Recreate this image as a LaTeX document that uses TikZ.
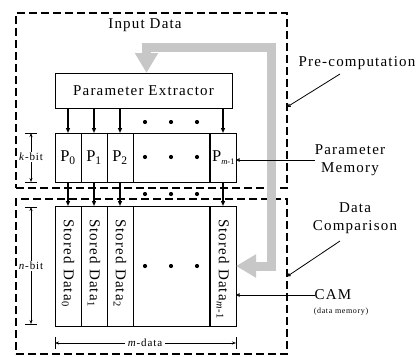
\documentclass[tikz,border=0pt]{standalone}
\usepackage{fontspec}
\setmainfont{Liberation Serif}[LetterSpace=8]
\usetikzlibrary{arrows.meta}
\begin{document}
\begin{tikzpicture}[x=1pt,y=-1pt,
  every node/.style={inner sep=0pt, outer sep=0pt},
  box/.style={draw, line width=0.9pt, fill=white, anchor=north west},
  zone/.style={draw, line width=2.6pt, dash pattern=on 8pt off 4pt, anchor=north west},
  arr/.style={line width=1.2pt, -{Triangle[length=5pt,width=4pt]}},
  dim/.style={line width=0.7pt, {Stealth[length=4pt,width=3pt]}-{Stealth[length=4pt,width=3pt]}},
  tick/.style={line width=0.7pt},
  lead/.style={line width=0.8pt, -{Triangle[open,length=3.5pt,width=3.5pt]}},
  flow/.style={line width=9pt, draw=black!22, line join=miter, {Triangle[length=20pt,width=22pt]}-{Triangle[length=20pt,width=22pt]}},
  lbl/.style={font=\fontsize{15}{18}\selectfont},
  pcell/.style={font=\fontsize{16.5}{19}\selectfont},
  cell/.style={font=\fontsize{15}{18}\selectfont},
  small/.style={font=\fontsize{11}{13}\selectfont, fill=white, inner xsep=1pt, inner ysep=1pt},
  tiny/.style={font=\fontsize{8}{10}\selectfont},
  dot/.style={circle, fill=black, minimum size=4.2pt}
]
\useasboundingbox[fill=white] (0,0) rectangle (417,356);

% zones
\node[zone, minimum width=271pt, minimum height=175pt] (pre) at (16,13) {};
\node[zone, minimum width=271pt, minimum height=155pt] (cmp) at (16,199) {};

% parameter extractor
\node[box, minimum width=177pt, minimum height=35pt, lbl] (ext) at (55,73) {};
\node[lbl] (extl) at (ext.center) {Parameter Extractor};

% parameter memory row
\node[box, minimum width=26pt, minimum height=49pt] (P0) at (55,133) {};
\node[box, minimum width=26pt, minimum height=49pt] (P1) at (81,133) {};
\node[box, minimum width=26pt, minimum height=49pt] (P2) at (107,133) {};
\node[box, minimum width=77pt, minimum height=49pt] (Pd) at (133,133) {};
\node[box, minimum width=26pt, minimum height=49pt] (Pm) at (210,133) {};
\draw[line width=1.8pt] (Pm.north west) -- (Pm.south west);
\node[pcell] (P0l) at (P0.center) {P\textsubscript{0}};
\node[pcell] (P1l) at (P1.center) {P\textsubscript{1}};
\node[pcell] (P2l) at (P2.center) {P\textsubscript{2}};
\node[pcell] (Pml) at ([xshift=0.3pt]Pm.center) {P\raisebox{-0.35ex}{\fontsize{8.5}{9}\selectfont\addfontfeature{LetterSpace=0}\textit{m}-1}};

% stored data row
\node[box, minimum width=26pt, minimum height=120pt] (S0) at (55,206) {};
\node[box, minimum width=26pt, minimum height=120pt] (S1) at (81,206) {};
\node[box, minimum width=26pt, minimum height=120pt] (S2) at (107,206) {};
\node[box, minimum width=77pt, minimum height=120pt] (Sd) at (133,206) {};
\node[box, minimum width=26pt, minimum height=120pt] (Sm) at (210,206) {};
\draw[line width=1.8pt] (Sm.north west) -- (Sm.south west);
\node[cell, rotate=-90, anchor=west] (S0l) at (68,219) {Stored Data\textsubscript{0}};
\node[cell, rotate=-90, anchor=west] (S1l) at (94,219) {Stored Data\textsubscript{1}};
\node[cell, rotate=-90, anchor=west] (S2l) at (120,219) {Stored Data\textsubscript{2}};
\node[cell, rotate=-90, anchor=west] (Sml) at (223,219) {Stored Data\textsubscript{\textit{m}-1}};

% arrows
\foreach \c in {0,1,2,m}{
  \draw[arr] (ext.south -| P\c.north) -- (P\c.north);
  \draw[arr] (P\c.south) -- (S\c.north);
}

% dots
\foreach \x [count=\i] in {145,171,197}{
  \node[dot] (da\i) at (\x,122) {};
  \node[dot] (db\i) at (\x,157) {};
  \node[dot] (dc\i) at (\x,194) {};
  \node[dot] (dd\i) at (\x,266) {};
}

% gray data flow
\coordinate (tr) at (271,47.5);
\draw[flow] (Sm.east) -- (Sm.east -| tr) -- (tr) -- (tr -| 146.5,0) -- ([xshift=3pt]ext.north);
\node[lbl] (in) at (145,25) {Input Data};

% dimensions
\draw[tick] (25,133) -- (37,133);
\draw[tick] (25,182) -- (37,182);
\draw[dim] (31,133) -- (31,182);
\node[small] (kb) at (31,157) {\textit{k}-bit};

\draw[tick] (25,207) -- (37,207);
\draw[tick] (25,324) -- (37,324);
\draw[dim] (31,207) -- (31,324);
\node[small] (nb) at (31,266) {\textit{n}-bit};

\draw[tick] (S0.south west |- 0,337) -- (S0.south west |- 0,349);
\draw[tick] (Sm.south east |- 0,337) -- (Sm.south east |- 0,349);
\draw[dim] (S0.south west |- 0,343) -- (Sm.south east |- 0,343);
\node[small, inner xsep=3pt] (md) at (145,343) {\textit{m}-data};

% right labels
\node[lbl] (prel) at (357,63) {Pre-computation};
\coordinate (prea) at (340,74);
\draw[lead] (prea) -- ([yshift=-6.5pt]pre.east);

\node[lbl, align=center] (pml) at (350,160) {Parameter\\Memory};
\draw[lead] (pml.west) -- (Pm.east |- pml.west);

\node[lbl, align=center] (dcl) at (355,218) {Data\\Comparison};
\coordinate (dca) at (340,241);
\draw[lead] (dca) -- (cmp.east);

\node[lbl] (caml) at (333,295) {CAM};
\node[tiny] (dml) at (341,312) {(data memory)};
\draw[lead] (caml.west) -- (Sm.east |- caml.west);
\end{tikzpicture}
\end{document}
